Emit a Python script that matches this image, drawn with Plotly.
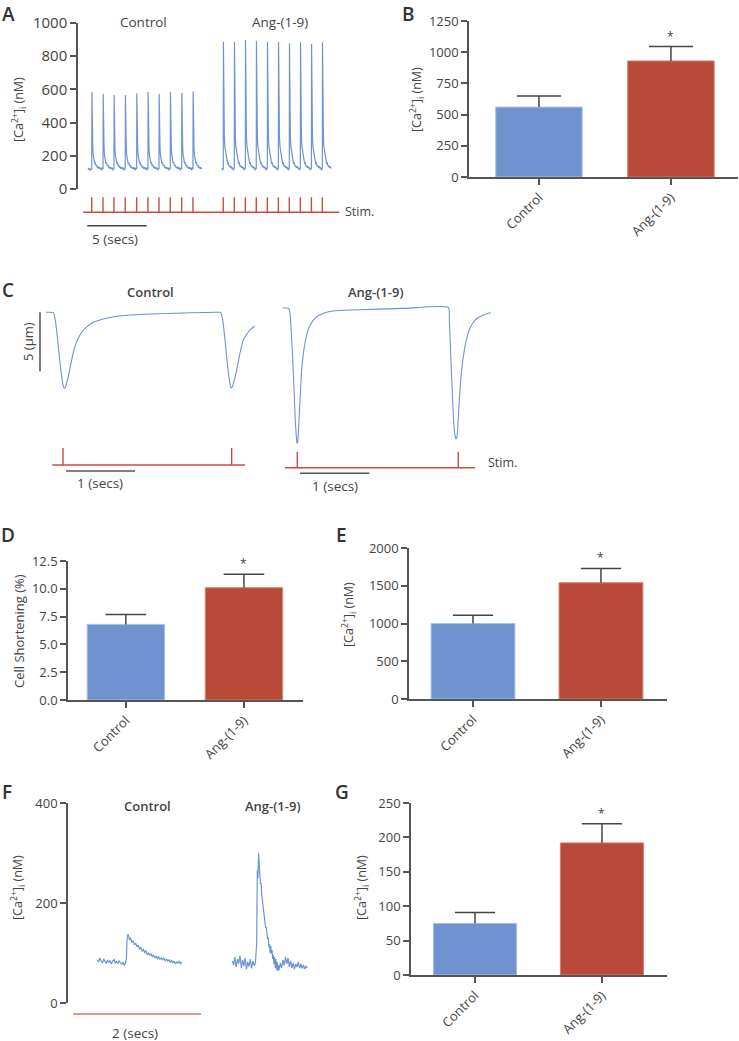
import plotly.graph_objects as go

W, H = 739, 1041
FONT = "Open Sans"
TXT = "#444444"
AX = "#555555"
BLUE_TR = "#6e93d6"
BLUE_BAR = "#7093cf"
RED_BAR = "#b94a39"
STIM = "#cc4b3c"

def fx(px):
    return px / W

def fy(py):
    return 1 - py / H

# ---------------- DATA ----------------
# Panel A: field-stimulated Ca2+ transients (time s, [Ca2+]i nM)
A_ctrl_stim = [0.71, 1.66, 2.58, 3.53, 4.49, 5.44, 6.37, 7.32, 8.28, 9.23]
A_ang_stim = [11.78, 12.71, 13.64, 14.56, 15.49, 16.42, 17.34, 18.27, 19.20, 20.12]
A_ctrl_peak = [584, 572, 566, 566, 576, 584, 572, 584, 580, 588]
A_ang_peak = [887, 887, 898, 893, 887, 887, 877, 884, 873, 884]
A_baseline = 120
A_ctrl_span = [0.40, 9.99]
A_ang_span = [11.68, 20.85]
A_stim_span = [0.0, 21.55]
# shape of one transient (offset s, fraction of amplitude, noise nM)
beat_t = [0.00, 0.015, 0.035, 0.06, 0.09, 0.13, 0.18, 0.24, 0.30, 0.36, 0.42, 0.48, 0.54, 0.60, 0.66, 0.72, 0.78, 0.84, 0.90]
beat_f = [0.00, 1.00, 0.60, 0.38, 0.26, 0.18, 0.13, 0.09, 0.07, 0.05, 0.04, 0.03, 0.025, 0.02, 0.015, 0.01, 0.005, 0.0, 0.0]
beat_n = [0, 0, 0, 0, 0, 0, 4, -5, 6, -4, 7, -6, 3, -7, 5, -5, 6, -8, 4]
pre_n = [-3, 6, -5, 4, -6, 0]

# Panel B
cats = ["Control", "Ang-(1-9)"]
B_mean = [560, 930]
B_err = [90, 115]

# Panel C: cell length change (time s, µm)
C_ctrl_t = [-0.246, -0.140, -0.116, -0.092, -0.068, -0.043, -0.019, 0.000, 0.019, 0.039, 0.058, 0.077,
            0.101, 0.126, 0.159, 0.198, 0.246, 0.295, 0.367, 0.440, 0.536, 0.633, 0.778, 0.923, 1.261,
            1.744, 2.275, 2.290, 2.314, 2.338, 2.362, 2.386, 2.411, 2.435, 2.459, 2.483, 2.507, 2.541,
            2.575, 2.614, 2.662, 2.710, 2.773]
C_ctrl_d = [0.0, -0.03, -0.51, -1.50, -2.91, -4.32, -5.45, -6.16, -6.44, -6.30, -5.88, -5.45,
            -4.75, -4.04, -3.19, -2.49, -1.92, -1.50, -1.13, -0.85, -0.65, -0.51, -0.34, -0.25, -0.14,
            -0.06, 0.0, -0.06, -0.65, -1.78, -3.19, -4.60, -5.73, -6.44, -6.24, -5.73, -5.17, -4.18,
            -3.19, -2.34, -1.86, -1.50, -1.16]
C_ang_t = [-0.211, -0.124, -0.105, -0.085, -0.066, -0.047, -0.029, -0.014, -0.005, 0.005, 0.020, 0.034,
           0.049, 0.063, 0.082, 0.106, 0.135, 0.174, 0.231, 0.303, 0.400, 0.520, 0.760, 1.049, 1.530,
           2.180, 2.194, 2.213, 2.233, 2.252, 2.271, 2.290, 2.305, 2.319, 2.338, 2.358, 2.382, 2.411,
           2.444, 2.492, 2.565, 2.661, 2.790]
C_ang_d = [0.0, -0.06, -0.48, -2.18, -4.44, -6.98, -9.52, -10.93, -11.50, -11.36, -10.08, -8.39,
           -6.69, -5.28, -4.15, -3.16, -2.32, -1.61, -1.05, -0.68, -0.42, -0.28, -0.20, -0.14, -0.06,
           0.02, -1.05, -3.87, -6.69, -9.24, -10.65, -11.13, -10.93, -9.80, -7.82, -6.13, -4.72, -3.59,
           -2.60, -1.75, -1.05, -0.68, -0.40]
C_ctrl_stim = [0.0, 2.444]
C_ang_stim = [0.0, 2.323]
C_ctrl_stim_span = [-0.155, 2.638]
C_ang_stim_span = [-0.177, 2.564]
C_time_bar = 1.0
C_len_bar = 5.0

# Panel D
D_mean = [6.8, 10.1]
D_err = [0.9, 1.2]

# Panel E
E_mean = [1000, 1540]
E_err = [110, 190]

# Panel F: single Ca2+ transients (time s, nM)
F_ctrl_t = [0.38, 0.40, 0.42, 0.44, 0.46, 0.48, 0.50, 0.52, 0.54, 0.56, 0.58, 0.60, 0.62, 0.64, 0.66,
            0.68, 0.70, 0.72, 0.74, 0.76, 0.78, 0.80, 0.82, 0.835, 0.845, 0.86, 0.88, 0.90, 0.92, 0.94,
            0.96, 0.98, 1.00, 1.02, 1.04, 1.06, 1.08, 1.10, 1.12, 1.14, 1.16, 1.18, 1.20, 1.22, 1.24,
            1.26, 1.28, 1.30, 1.32, 1.34, 1.36, 1.38, 1.40, 1.42, 1.44, 1.46, 1.48, 1.50, 1.52, 1.54,
            1.56, 1.58, 1.60, 1.62, 1.64, 1.66, 1.68, 1.70]
F_ctrl_c = [86, 82, 90, 84, 80, 88, 83, 79, 86, 81, 85, 78, 84, 87, 80,
            83, 79, 85, 81, 77, 82, 75, 80, 90, 128, 138, 128, 130, 122, 124,
            117, 119, 113, 115, 108, 111, 104, 107, 101, 104, 97, 100, 95, 99, 92,
            96, 90, 94, 88, 93, 87, 91, 86, 90, 84, 88, 83, 87, 81, 86,
            80, 84, 78, 83, 79, 84, 78, 82]
F_ang_t = [2.49, 2.51, 2.53, 2.55, 2.57, 2.59, 2.61, 2.63, 2.65, 2.67, 2.69, 2.71, 2.73, 2.75, 2.77,
           2.79, 2.81, 2.83, 2.85, 2.87, 2.88, 2.89, 2.90, 2.91, 2.92, 2.93, 2.94, 2.95, 2.96, 2.97,
           2.98, 2.99, 3.00, 3.01, 3.02, 3.03, 3.04, 3.05, 3.06, 3.07, 3.08, 3.09, 3.10, 3.11, 3.12,
           3.13, 3.14, 3.15, 3.16, 3.17, 3.18, 3.19, 3.20, 3.21, 3.22, 3.24, 3.26, 3.28, 3.30, 3.32,
           3.34, 3.36, 3.38, 3.40, 3.42, 3.44, 3.46, 3.48, 3.50, 3.52, 3.54, 3.56, 3.58, 3.60, 3.62,
           3.64, 3.66]
F_ang_c = [84, 76, 92, 72, 88, 79, 95, 70, 86, 74, 90, 67, 82, 73, 88,
           69, 84, 75, 80, 120, 265, 250, 300, 262, 255, 238, 240, 215, 205, 198,
           180, 168, 160, 150, 152, 140, 128, 132, 112, 118, 100, 114, 98, 106, 88,
           96, 78, 92, 70, 88, 66, 82, 64, 76, 66, 80, 70, 86, 75, 92,
           78, 90, 72, 85, 70, 80, 68, 78, 72, 82, 70, 78, 69, 76, 68,
           74, 70]
F_time_bar = [0.0, 2.0]

# Panel G
G_mean = [75, 192]
G_err = [16, 28]

# ---------------- FIGURE ----------------
fig = go.Figure()
layout = dict(width=W, height=H, autosize=False, margin=dict(l=0, r=0, t=0, b=0, pad=0, autoexpand=False),
              paper_bgcolor="white", plot_bgcolor="white", showlegend=False,
              font=dict(family=FONT, color=TXT, size=13))
annotations = []
shapes = []

def yaxis_style(domain_py, rng, tickvals, ticktext=None, anchor="x", size=13):
    d = dict(domain=[fy(domain_py[1]), fy(domain_py[0])], range=rng, anchor=anchor,
             showline=True, linecolor=AX, linewidth=1.5, ticks="outside", ticklen=6,
             tickwidth=1.5, tickcolor=AX, showgrid=False, zeroline=False, automargin=False,
             tickvals=tickvals, tickfont=dict(family=FONT, size=size, color=TXT), fixedrange=True)
    if ticktext is not None:
        d["ticktext"] = ticktext
    return d

def hidden_x(domain_px, rng, anchor):
    return dict(domain=[fx(domain_px[0]), fx(domain_px[1])], range=rng, anchor=anchor,
                visible=False, showgrid=False, zeroline=False, fixedrange=True, automargin=False)

def cat_x(domain_px, rng, anchor):
    return dict(domain=[fx(domain_px[0]), fx(domain_px[1])], range=rng, anchor=anchor,
                showline=True, linecolor=AX, linewidth=1.5, ticks="outside", ticklen=6,
                tickwidth=1.5, tickcolor=AX, showgrid=False, zeroline=False, automargin=False,
                tickvals=[0, 1], ticktext=cats, tickangle=-45,
                tickfont=dict(family=FONT, size=13, color=TXT), fixedrange=True)

def text(px, py, s, size=13, weight=None, angle=0, xanchor="center", color=TXT):
    f = dict(family=FONT, size=size, color=color)
    if weight:
        f["weight"] = weight
    annotations.append(dict(x=fx(px), y=fy(py), xref="paper", yref="paper", text=s,
                            showarrow=False, xanchor=xanchor, yanchor="middle",
                            textangle=angle, font=f))

def hline_data(xref, x0, x1, py, color, width=1.4):
    shapes.append(dict(type="line", xref=xref, yref="paper", x0=x0, x1=x1,
                       y0=fy(py), y1=fy(py), line=dict(color=color, width=width)))

def vline_data(xref, x, py0, py1, color, width=1.4):
    shapes.append(dict(type="line", xref=xref, yref="paper", x0=x, x1=x,
                       y0=fy(py0), y1=fy(py1), line=dict(color=color, width=width)))

# ---- Panel A ----
def build_trace(stims, peaks, span):
    ts, ys = [], []
    n_pre = len(pre_n)
    step = (stims[0] - span[0]) / n_pre
    for k in range(n_pre):
        ts.append(span[0] + k * step)
        ys.append(A_baseline + pre_n[k])
    for s, p in zip(stims, peaks):
        for dt, f, nz in zip(beat_t, beat_f, beat_n):
            t = s + dt
            if t <= span[1]:
                ts.append(t)
                ys.append(A_baseline + f * (p - A_baseline) + nz)
    return ts, ys

for stims, peaks, span in [(A_ctrl_stim, A_ctrl_peak, A_ctrl_span), (A_ang_stim, A_ang_peak, A_ang_span)]:
    ts, ys = build_trace(stims, peaks, span)
    fig.add_trace(go.Scatter(x=ts, y=ys, mode="lines", line=dict(color=BLUE_TR, width=1.2),
                             xaxis="x", yaxis="y", hoverinfo="skip"))
tA = lambda px: (px - 83.3) / 11.88
layout["xaxis"] = hidden_x([78, 340], [tA(78), tA(340)], "y")
layout["yaxis"] = yaxis_style([23, 189], [0, 1000], [0, 200, 400, 600, 800, 1000], anchor="x", size=15)
hline_data("x", A_stim_span[0], A_stim_span[1], 212.3, STIM)
for s in A_ctrl_stim + A_ang_stim:
    vline_data("x", s, 197.3, 212.3, STIM)
hline_data("x", tA(87.3), tA(87.3) + 5, 225.7, "#444444")
text(114.5, 239, "5 (secs)", size=13.5)
text(343, 212, "Stim.", size=12.5, xanchor="left")
text(143, 22, "Control", size=13.5)
text(280, 22, "Ang-(1-9)", size=13.5)
text(19, 110, "[Ca<sup>2+</sup>]<sub>i</sub> (nM)", size=12.5, angle=-90)

# ---- bar panels ----
def bar_panel(n, means, errs, xdom, xr, ydom, yr, yticks, yticktext, hw):
    xa = "x" + str(n)
    ya = "y" + str(n)
    fig.add_trace(go.Bar(x=[0, 1], y=means, width=0.655,
                         marker=dict(color=[BLUE_BAR, RED_BAR],
                                     line=dict(color=["#a9bfe6", "#d4806f"], width=1)),
                         xaxis=xa, yaxis=ya, hoverinfo="skip"))
    ex, ey = [], []
    for i, (m, e) in enumerate(zip(means, errs)):
        ex += [i, i, None, i - hw, i + hw, None]
        ey += [m, m + e, None, m + e, m + e, None]
    fig.add_trace(go.Scatter(x=ex, y=ey, mode="lines", line=dict(color="#444444", width=1.5),
                             xaxis=xa, yaxis=ya, hoverinfo="skip"))
    annotations.append(dict(x=1, y=means[1] + errs[1], xref=xa, yref=ya, text="*",
                            showarrow=False, yanchor="bottom", yshift=0,
                            font=dict(family=FONT, size=12, color=TXT)))
    layout["xaxis" + str(n)] = cat_x(xdom, xr, ya)
    layout["yaxis" + str(n)] = yaxis_style(ydom, yr, yticks, yticktext, anchor=xa)

bar_panel(2, B_mean, B_err, [469, 738], [-0.53, 1.508], [21, 177], [0, 1250],
          [0, 250, 500, 750, 1000, 1250], None, 0.167)
text(417, 100, "[Ca<sup>2+</sup>]<sub>i</sub> (nM)", size=12.5, angle=-90)

# ---- Panel C ----
tC1 = lambda px: (px - 63) / 69.0
tC2 = lambda px: (px - 297.3) / 69.3
fig.add_trace(go.Scatter(x=C_ctrl_t, y=C_ctrl_d, mode="lines", line=dict(color=BLUE_TR, width=1.1, shape="spline", smoothing=0.5),
                         xaxis="x3", yaxis="y3", hoverinfo="skip"))
fig.add_trace(go.Scatter(x=C_ang_t, y=C_ang_d, mode="lines", line=dict(color=BLUE_TR, width=1.1, shape="spline", smoothing=0.5),
                         xaxis="x4", yaxis="y4", hoverinfo="skip"))
layout["xaxis3"] = hidden_x([40, 260], [tC1(40), tC1(260)], "y3")
layout["yaxis3"] = dict(domain=[fy(450), fy(300)], range=[-(450 - 312.3) / 11.8, (312.3 - 300) / 11.8],
                        anchor="x3", visible=False, fixedrange=True, automargin=False)
layout["xaxis4"] = hidden_x([275, 500], [tC2(275), tC2(500)], "y4")
layout["yaxis4"] = dict(domain=[fy(450), fy(300)], range=[-(450 - 307.7) / 11.8, (307.7 - 300) / 11.8],
                        anchor="x4", visible=False, fixedrange=True, automargin=False)
# length scale bar
shapes.append(dict(type="line", xref="paper", yref="y3", x0=fx(40), x1=fx(40), y0=0, y1=-C_len_bar,
                   line=dict(color="#444444", width=1.4)))
text(28, 342, "5 (μm)", size=13, angle=-90)
hline_data("x3", C_ctrl_stim_span[0], C_ctrl_stim_span[1], 465, STIM)
for s in C_ctrl_stim:
    vline_data("x3", s, 448, 465, STIM)
hline_data("x3", 0.043, 0.043 + C_time_bar, 471, "#555555")
text(100, 483, "1 (secs)", size=13.5)
hline_data("x4", C_ang_stim_span[0], C_ang_stim_span[1], 467.7, STIM)
for s in C_ang_stim:
    vline_data("x4", s, 451.7, 467.7, STIM)
hline_data("x4", 0.039, 0.039 + C_time_bar, 473.3, "#555555")
text(335, 486.5, "1 (secs)", size=13.5)
text(486, 463, "Stim.", size=12.5, xanchor="left")
text(150, 292, "Control", size=13, weight=600)
text(376, 292, "Ang-(1-9)", size=13, weight=600)

# ---- Panel D, E ----
bar_panel(5, D_mean, D_err, [68, 303], [-0.49, 1.5], [561, 700], [0, 12.5],
          [0, 2.5, 5, 7.5, 10, 12.5], ["0.0", "2.5", "5.0", "7.5", "10.0", "12.5"], 0.172)
text(19, 631, "Cell Shortening (%)", size=13, angle=-90)
bar_panel(6, E_mean, E_err, [409, 667], [-0.5, 1.516], [548, 699], [0, 2000],
          [0, 500, 1000, 1500, 2000], None, 0.157)
text(349, 615, "[Ca<sup>2+</sup>]<sub>i</sub> (nM)", size=12.5, angle=-90)

# ---- Panel F ----
tF = lambda px: (px - 73) / 64.0
fig.add_trace(go.Scatter(x=F_ctrl_t, y=F_ctrl_c, mode="lines", line=dict(color=BLUE_TR, width=1.2),
                         xaxis="x7", yaxis="y7", hoverinfo="skip"))
fig.add_trace(go.Scatter(x=F_ang_t, y=F_ang_c, mode="lines", line=dict(color=BLUE_TR, width=1.2),
                         xaxis="x7", yaxis="y7", hoverinfo="skip"))
layout["xaxis7"] = hidden_x([68, 330], [tF(68), tF(330)], "y7")
layout["yaxis7"] = yaxis_style([803, 1003], [0, 400], [0, 200, 400], anchor="x7")
hline_data("x7", F_time_bar[0], F_time_bar[1], 1014, "#d9786b", width=1.6)
text(135, 1033, "2 (secs)", size=13.5)
text(147, 806, "Control", size=13, weight=600)
text(273, 806, "Ang-(1-9)", size=13, weight=600)
text(18, 888, "[Ca<sup>2+</sup>]<sub>i</sub> (nM)", size=12.5, angle=-90)

# ---- Panel G ----
bar_panel(8, G_mean, G_err, [411, 667], [-0.504, 1.512], [803, 975], [0, 250],
          [0, 50, 100, 150, 200, 250], None, 0.158)
text(362, 888, "[Ca<sup>2+</sup>]<sub>i</sub> (nM)", size=12.5, angle=-90)

# ---- panel letters ----
for L, px, py in [("A", 8, 14), ("B", 408, 14), ("C", 8, 290), ("D", 8, 535),
                  ("E", 341, 535), ("F", 7, 792), ("G", 342, 792)]:
    text(px, py, L, size=19, weight=600, color="#333333")

layout["annotations"] = annotations
layout["shapes"] = shapes
fig.update_layout(**layout)
fig.write_html("out.html", config={"displayModeBar": False},
               post_script="document.body.style.margin='0';document.body.style.overflow='hidden';")
